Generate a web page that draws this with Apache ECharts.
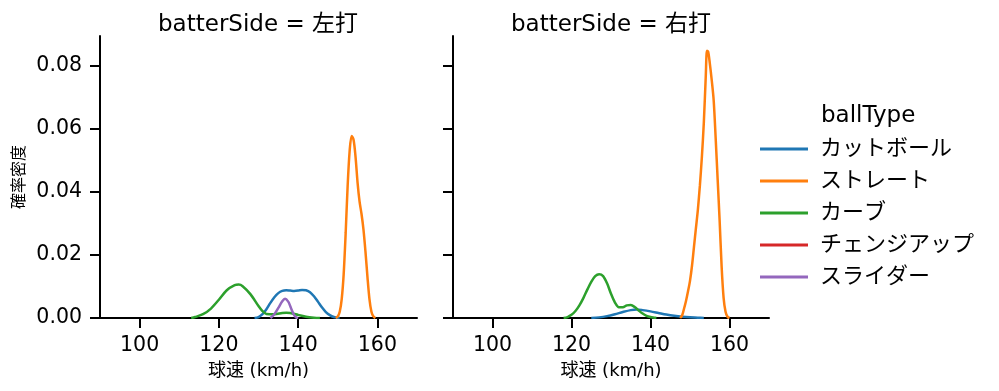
<!DOCTYPE html>
<html><head><meta charset="utf-8">
<script src="https://cdn.jsdelivr.net/npm/echarts@6/dist/echarts.min.js"></script>
<style>html,body{margin:0;padding:0;background:#fff}#c{width:999px;height:391px}</style>
</head><body><div id="c"></div>
<script>
const ballTypes = ['カットボール','ストレート','カーブ','チェンジアップ','スライダー'];
const colors = ['#1f77b4','#ff7f0e','#2ca02c','#d62728','#9467bd'];
const panels = ['batterSide = 左打','batterSide = 右打'];
const xTicks = [100,120,140,160];
const yTicks = [0,0.02,0.04,0.06,0.08];

// Left panel (左打)
const L_cut_x = [129,130,131,132,133,134,135,136,137,138,139,140,141,142,143,144,145,146,147,148,149,150,150.5];
const L_cut_y = [0,0.0003,0.0012,0.0028,0.0048,0.0066,0.0079,0.0086,0.0088,0.0087,0.0086,0.0087,0.0089,0.0088,0.0082,0.0069,0.0052,0.0034,0.0019,0.0009,0.0003,0.0001,0];
const L_str_x = [149.5,150,150.5,151,151.5,152,152.5,153,153.5,154,154.5,155,155.5,156,156.5,157,157.5,158,158.5,159,159.5];
const L_str_y = [0,0.0005,0.002,0.006,0.014,0.027,0.042,0.053,0.0578,0.0565,0.051,0.043,0.037,0.033,0.028,0.021,0.013,0.006,0.002,0.0005,0];
const L_cur_x = [113,114,116,118,120,122,124,125,126,128,130,131,132,134,136,137,138,140,142,144,145.5];
const L_cur_y = [0,0.0003,0.0012,0.003,0.0058,0.0088,0.0104,0.0106,0.0101,0.0075,0.0038,0.0022,0.0013,0.0012,0.0016,0.0017,0.0016,0.001,0.0004,0.0001,0];
const L_sl_x = [133,134,135,136,136.7,137.5,138,138.5,139,139.5,140];
const L_sl_y = [0,0.0012,0.0032,0.0053,0.0061,0.0052,0.0038,0.0022,0.0009,0.0002,0];

// Right panel (右打)
const R_cut_x = [125,127,129,131,133,135,136.5,138,140,142,144,146,148,150,152,153.5];
const R_cut_y = [0,0.0002,0.0006,0.0012,0.0019,0.0025,0.0027,0.0025,0.0021,0.0016,0.0011,0.0007,0.0004,0.0002,0.0001,0];
const R_str_x = [147.5,148,148.5,149,149.5,150,150.5,151,151.5,152,152.5,153,153.5,154,154.3,154.6,155,155.5,156,156.5,157,157.5,158,158.5,159,159.5,160];
const R_str_y = [0,0.0008,0.003,0.0055,0.0085,0.0118,0.0165,0.0225,0.0285,0.0345,0.042,0.051,0.062,0.077,0.0848,0.0845,0.081,0.0755,0.069,0.057,0.044,0.031,0.0165,0.0065,0.002,0.0004,0];
const R_cur_x = [118,119,120,121,122,123,124,125,126,127,128,129,130,131,132,133,134,135,136,137,138,139,140,141,141.5];
const R_cur_y = [0,0.0003,0.001,0.0022,0.004,0.0063,0.009,0.0115,0.0133,0.0139,0.0133,0.011,0.0077,0.0049,0.0034,0.0034,0.004,0.0041,0.0035,0.0024,0.0014,0.0007,0.0003,0.0001,0];

const zip = (xs, ys) => xs.map((x, i) => [x, ys[i]]);
const panelData = [
  {0: zip(L_cut_x, L_cut_y), 1: zip(L_str_x, L_str_y), 2: zip(L_cur_x, L_cur_y), 3: [], 4: zip(L_sl_x, L_sl_y)},
  {0: zip(R_cut_x, R_cut_y), 1: zip(R_str_x, R_str_y), 2: zip(R_cur_x, R_cur_y), 3: [], 4: []}
];

const FONT = '"DejaVu Sans", "Noto Sans CJK JP", sans-serif';
const grids = [
  {left: 100, top: 36, width: 317, height: 282},
  {left: 453, top: 36, width: 316, height: 282}
];
const xAxes = grids.map((g, i) => ({
  type: 'value', gridIndex: i, min: 90, max: 170,
  name: '球速 (km/h)', nameLocation: 'middle', nameGap: 44,
  nameTextStyle: {fontFamily: FONT, fontSize: 18, color: '#000'},
  axisLine: {show: true, lineStyle: {color: '#000', width: 2}},
  axisTick: {show: true, length: 10, lineStyle: {color: '#000', width: 2}, customValues: xTicks},
  axisLabel: {fontFamily: FONT, fontSize: 20.5, color: '#000', margin: 17, customValues: xTicks},
  splitLine: {show: false}
}));
const yAxes = grids.map((g, i) => ({
  type: 'value', gridIndex: i, min: 0, max: 0.0895,
  name: i === 0 ? '確率密度' : '', nameLocation: 'middle', nameGap: 72,
  nameTextStyle: {fontFamily: FONT, fontSize: 16, color: '#000'},
  axisLine: {show: true, lineStyle: {color: '#000', width: 2}},
  axisTick: {show: true, length: 10, lineStyle: {color: '#000', width: 2}, customValues: yTicks},
  axisLabel: {show: i === 0, fontFamily: FONT, fontSize: 20.5, color: '#000', margin: 18,
    customValues: yTicks, formatter: v => v.toFixed(2)},
  splitLine: {show: false}
}));
const series = [];
[0, 1].forEach(p => {
  ballTypes.forEach((name, k) => {
    series.push({
      name, type: 'line', xAxisIndex: p, yAxisIndex: p,
      data: panelData[p][k], smooth: 0.3, showSymbol: false, symbol: 'none',
      lineStyle: {color: colors[k], width: 2.5}, itemStyle: {color: colors[k]},
      z: 2 + k, animation: false
    });
  });
});

const chart = echarts.init(document.getElementById('c'), null, {renderer: 'canvas'});
chart.setOption({
  animation: false,
  color: colors,
  title: [
    {text: panels[0], left: 253, top: 9, textAlign: 'center', textStyle: {fontFamily: FONT, fontSize: 23, fontWeight: 'normal', color: '#000'}},
    {text: panels[1], left: 606, top: 9, textAlign: 'center', textStyle: {fontFamily: FONT, fontSize: 23, fontWeight: 'normal', color: '#000'}},
    {text: 'ballType', left: 816, top: 100, textStyle: {fontFamily: FONT, fontSize: 23, fontWeight: 'normal', color: '#000'}}
  ],
  legend: {
    data: ballTypes, orient: 'vertical', left: 755, top: 133,
    icon: 'rect', itemWidth: 48, itemHeight: 3, itemGap: 10,
    textStyle: {fontFamily: FONT, fontSize: 22, color: '#000', lineHeight: 22, padding: [0, 0, 0, 7]},
    selectedMode: false
  },
  grid: grids,
  xAxis: xAxes,
  yAxis: yAxes,
  series
});
</script></body></html>
